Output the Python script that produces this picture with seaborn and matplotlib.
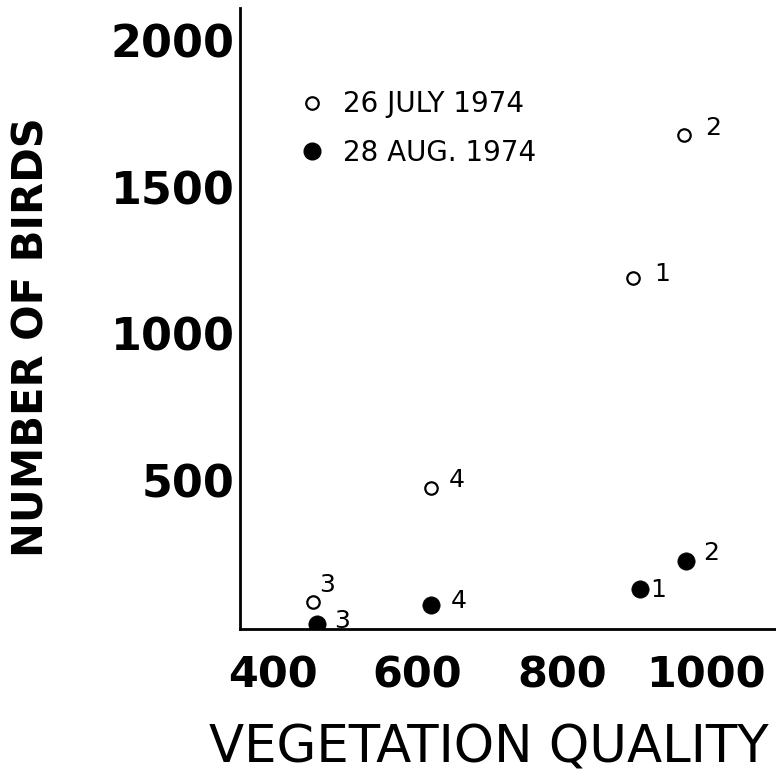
import matplotlib
matplotlib.use("Agg")
import matplotlib.pyplot as plt
import seaborn as sns
import pandas as pd
from matplotlib.lines import Line2D

# Data
july_quality = [899, 969, 455, 618]
july_birds = [1190, 1677, 85, 474]
july_labels = ["1", "2", "3", "4"]

aug_quality = [908, 972, 461, 618]
aug_birds = [130, 225, 10, 75]
aug_labels = ["1", "2", "3", "4"]

series_names = ["26 JULY 1974", "28 AUG. 1974"]
x_ticks = [400, 600, 800, 1000]
y_ticks = [500, 1000, 1500, 2000]

july = pd.DataFrame({"q": july_quality, "n": july_birds, "site": july_labels})
aug = pd.DataFrame({"q": aug_quality, "n": aug_birds, "site": aug_labels})

sns.set_style("white")
plt.rcParams["font.family"] = ["DejaVu Sans"]
plt.rcParams["text.color"] = "black"
plt.rcParams["xtick.color"] = "black"
plt.rcParams["ytick.color"] = "black"
plt.rcParams["axes.labelcolor"] = "black"

fig = plt.figure(figsize=(7.76, 7.81), dpi=100)
ax = fig.add_axes([0.3093, 0.1946, 0.69, 0.795])

sns.scatterplot(data=july, x="q", y="n", ax=ax, marker="o", s=80,
                facecolor="white", edgecolor="black", linewidth=1.6, clip_on=False, zorder=3)
sns.scatterplot(data=aug, x="q", y="n", ax=ax, marker="o", s=155,
                color="black", edgecolor="black", linewidth=0.5, zorder=3)

july_off = [(21, 3), (21, 5), (10, 12), (19, 6)]
aug_off = [(13, -1), (18, 6), (18, 2), (20, 3)]
for (_, r), off in zip(july.iterrows(), july_off):
    ax.annotate(r["site"], (r["q"], r["n"]), xytext=off, textcoords="offset points",
                ha="center", va="center", fontsize=18)
for (_, r), off in zip(aug.iterrows(), aug_off):
    ax.annotate(r["site"], (r["q"], r["n"]), xytext=off, textcoords="offset points",
                ha="center", va="center", fontsize=18)

ax.set_xlim(354, 1096)
ax.set_ylim(-7, 2110)
ax.set_xticks(x_ticks)
ax.set_yticks(y_ticks)
ax.set_xticklabels([str(v) for v in x_ticks], fontsize=31, fontweight="bold")
ax.set_yticklabels([str(v) for v in y_ticks], fontsize=32, fontweight="bold")
ax.tick_params(axis="x", direction="in", length=8, width=1.5, pad=18)
ax.tick_params(axis="y", direction="in", length=12, width=1.5, pad=4)

for s in ["top", "right"]:
    ax.spines[s].set_visible(False)
for s in ["left", "bottom"]:
    ax.spines[s].set_linewidth(2)
    ax.spines[s].set_color("black")

ax.set_xlabel("VEGETATION QUALITY", fontsize=37)
ax.xaxis.set_label_coords(0.465, -0.152)
ax.set_ylabel("NUMBER OF BIRDS", fontsize=30, fontweight="bold")
ax.yaxis.set_label_coords(-0.35, 0.47)

handles = [
    Line2D([], [], marker="o", linestyle="none", markersize=9, markerfacecolor="white",
           markeredgecolor="black", markeredgewidth=1.6),
    Line2D([], [], marker="o", linestyle="none", markersize=12, markerfacecolor="black",
           markeredgecolor="black"),
]
ax.legend(handles, series_names, loc="upper left", bbox_to_anchor=(0.057, 0.89),
          frameon=False, fontsize=20, handletextpad=0.1, labelspacing=0.75, borderpad=0)

fig.savefig("out.png", dpi=100)
